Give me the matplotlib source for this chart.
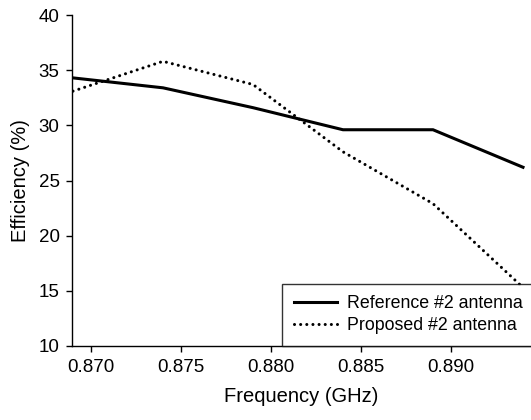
import matplotlib
matplotlib.use("Agg")
import matplotlib.pyplot as plt

freq = [0.869, 0.874, 0.879, 0.884, 0.889, 0.894]
ref_eff = [34.3, 33.4, 31.6, 29.6, 29.6, 26.2]
prop_eff = [33.1, 35.8, 33.7, 27.6, 22.9, 15.3]
xticks = [0.870, 0.875, 0.880, 0.885, 0.890]
yticks = [10, 15, 20, 25, 30, 35, 40]

plt.rcParams['font.family'] = ['Liberation Sans', 'DejaVu Sans']

fig = plt.figure(figsize=(5.31, 4.20), dpi=100)
ax = fig.add_axes([72/531, 1-346/420, 1-72/531, (346-15)/420])

ax.plot(freq, ref_eff, color='black', lw=2.2, solid_joinstyle='miter', label='Reference #2 antenna')
ax.plot(freq, prop_eff, color='black', lw=2.2, linestyle=(0, (0.01, 2.0)), dash_capstyle='round',
        label='Proposed #2 antenna')

x0 = 0.870 - 19/90*0.005
ax.set_xlim(x0, x0 + 459/90*0.005)
ax.set_ylim(10, 40)
ax.set_xticks(xticks)
ax.set_xticklabels([f"{t:.3f}" for t in xticks])
ax.set_yticks(yticks)
ax.tick_params(axis='both', direction='out', length=4, width=1, labelsize=13.5, pad=5)
for s in ['top', 'right']:
    ax.spines[s].set_visible(False)
for s in ['left', 'bottom']:
    ax.spines[s].set_linewidth(1)
ax.set_xlabel('Frequency (GHz)', fontsize=14.5, labelpad=8)
ax.set_ylabel('Efficiency (%)', fontsize=14.5, labelpad=6)

leg = ax.legend(loc='lower left', bbox_to_anchor=(282/531, 74/420, 260/531, 61/420),
                bbox_transform=fig.transFigure, mode='expand', borderaxespad=0,
                fontsize=12.8, frameon=True, fancybox=False, handlelength=2.45,
                handletextpad=0.55, labelspacing=0.3, borderpad=0.65)
leg.get_frame().set_edgecolor('black')
leg.get_frame().set_linewidth(1)

fig.savefig('out.png', dpi=100)
